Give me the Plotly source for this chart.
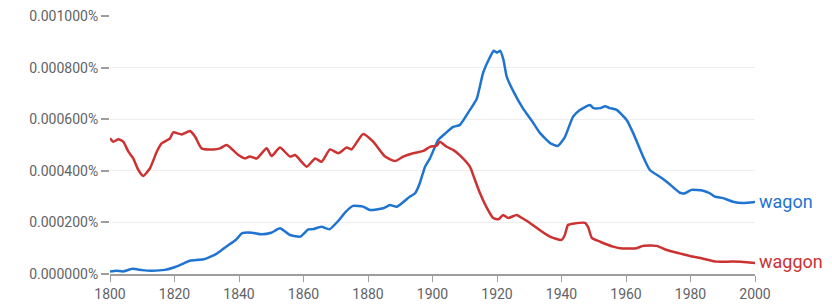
import plotly.graph_objects as go

wagon_years = [1800, 1802, 1804, 1807, 1810, 1813, 1817, 1820, 1823, 1825, 1829, 1833, 1836, 1839,
               1841, 1844, 1847, 1850, 1852.7, 1855.8, 1859, 1861.5, 1863, 1865.6, 1868, 1871, 1873,
               1875.4, 1878.5, 1880.6, 1884.7, 1886.8, 1889, 1893, 1894.6, 1896, 1897.7, 1899.2,
               1901.8, 1904, 1906.4, 1908.5, 1911.6, 1913.7, 1915.7, 1917.8, 1919, 1920, 1921, 1922,
               1923, 1925, 1928, 1931, 1933.3, 1936.4, 1938.8, 1941, 1943.6, 1945.7, 1948.8, 1949.9,
               1952, 1953.5, 1955, 1957.1, 1960.2, 1962.2, 1965.3, 1967.4, 1970.5, 1972.6, 1976.7,
               1978.3, 1980.3, 1983.9, 1986, 1987.6, 1990.1, 1993.2, 1996.3, 2000]
wagon_vals = [0.000010, 0.000013, 0.000010, 0.000020, 0.000015, 0.000013, 0.000016, 0.000026,
              0.000042, 0.000052, 0.000057, 0.000078, 0.000106, 0.000132, 0.000158, 0.000160,
              0.000154, 0.000160, 0.000177, 0.000151, 0.000145, 0.000173, 0.000174, 0.000183,
              0.000173, 0.000209, 0.000240, 0.000264, 0.000261, 0.000248, 0.000255, 0.000267,
              0.000261, 0.000300, 0.000313, 0.000350, 0.000416, 0.000448, 0.000520, 0.000545,
              0.000570, 0.000578, 0.000636, 0.000678, 0.000780, 0.000840, 0.000865, 0.000858,
              0.000865, 0.000830, 0.000765, 0.000710, 0.000643, 0.000590, 0.000547, 0.000508,
              0.000496, 0.000530, 0.000610, 0.000636, 0.000655, 0.000643, 0.000643, 0.000650,
              0.000643, 0.000636, 0.000597, 0.000547, 0.000455, 0.000403, 0.000377, 0.000358,
              0.000315, 0.000313, 0.000326, 0.000323, 0.000313, 0.000300, 0.000294, 0.000280,
              0.000275, 0.000279]

waggon_years = [1800, 1801, 1802.6, 1804.1, 1805.7, 1807.2, 1808.8, 1810.3, 1812.4, 1814.5, 1816,
                1818.6, 1819.6, 1822.2, 1824.8, 1826.4, 1828.4, 1832, 1834.1, 1836.2, 1839.8, 1841.9,
                1843.4, 1845.5, 1848.6, 1850.1, 1852.7, 1855.8, 1857.4, 1861, 1863.6, 1865.6, 1868.2,
                1870.8, 1873.4, 1874.9, 1878.5, 1881.6, 1885.3, 1888.4, 1890.9, 1894, 1897.2, 1899.2,
                1901.3, 1902.3, 1904.4, 1906.5, 1908.5, 1911.6, 1913, 1914.7, 1916.7, 1918.8, 1920.5,
                1921.9, 1923.5, 1926.1, 1928, 1930.2, 1933.3, 1936.4, 1940, 1941, 1942, 1944, 1947.3,
                1948.3, 1949.4, 1952, 1956, 1958.1, 1963.3, 1965.3, 1969.5, 1972.6, 1976.7, 1979.8,
                1983, 1988.1, 1993.2, 2000]
waggon_vals = [0.000526, 0.000513, 0.000522, 0.000513, 0.000474, 0.000448, 0.000403, 0.000380,
               0.000410, 0.000474, 0.000506, 0.000526, 0.000549, 0.000541, 0.000554, 0.000532,
               0.000487, 0.000483, 0.000487, 0.000500, 0.000461, 0.000448, 0.000455, 0.000448,
               0.000487, 0.000457, 0.000490, 0.000455, 0.000461, 0.000416, 0.000448, 0.000435,
               0.000483, 0.000468, 0.000490, 0.000483, 0.000543, 0.000513, 0.000455, 0.000438,
               0.000455, 0.000468, 0.000477, 0.000493, 0.000497, 0.000513, 0.000493, 0.000480,
               0.000460, 0.000416, 0.000370, 0.000314, 0.000260, 0.000217, 0.000212, 0.000229,
               0.000217, 0.000229, 0.000215, 0.000198, 0.000170, 0.000145, 0.000132, 0.000150,
               0.000190, 0.000196, 0.000198, 0.000180, 0.000140, 0.000125, 0.000106, 0.000100,
               0.000100, 0.000109, 0.000109, 0.000093, 0.000080, 0.000070, 0.000062, 0.000048,
               0.000048, 0.000043]

series_names = ["wagon", "waggon"]
series_colors = ["#1f74d1", "#cc3232"]
y_ticks = [0, 0.0002, 0.0004, 0.0006, 0.0008, 0.001]
y_tick_labels = ["0.000000%", "0.000200%", "0.000400%", "0.000600%", "0.000800%", "0.001000%"]
x_ticks = [1800, 1820, 1840, 1860, 1880, 1900, 1920, 1940, 1960, 1980, 2000]

fig = go.Figure()
data = [(wagon_years, wagon_vals), (waggon_years, waggon_vals)]
for (xs, ys), name, col in zip(data, series_names, series_colors):
    fig.add_trace(go.Scatter(x=xs, y=ys, mode="lines", name=name,
                             line=dict(color=col, width=2.5, shape="spline", smoothing=0.5),
                             cliponaxis=False, hoverinfo="skip"))
    fig.add_annotation(x=xs[-1], y=ys[-1], text=name, showarrow=False, xanchor="left",
                       yanchor="middle", xshift=2, yshift=1, font=dict(color=col, size=18))

fig.update_layout(
    width=832, height=306,
    margin=dict(l=110, r=77, t=16, b=32),
    paper_bgcolor="white", plot_bgcolor="white",
    showlegend=False,
    font=dict(family="Roboto, Arial, sans-serif", size=14, color="#5f6368"),
    xaxis=dict(range=[1800, 2000], tickvals=x_ticks, showgrid=False, zeroline=False,
               showline=True, linecolor="#9e9e9e", linewidth=2, ticks="outside",
               ticklen=6, tickcolor="#9e9e9e", tickwidth=1, automargin=False,
               tickfont=dict(size=14, color="#5f6368")),
    yaxis=dict(range=[0, 0.001], tickvals=y_ticks, ticktext=y_tick_labels,
               showgrid=True, gridcolor="#eeeeee", gridwidth=1, zeroline=False, showline=False,
               ticks="outside", ticklen=8, tickcolor="#9e9e9e", tickwidth=2, automargin=False,
               tickfont=dict(size=14, color="#5f6368")),
)

fig.write_html("out.html")
